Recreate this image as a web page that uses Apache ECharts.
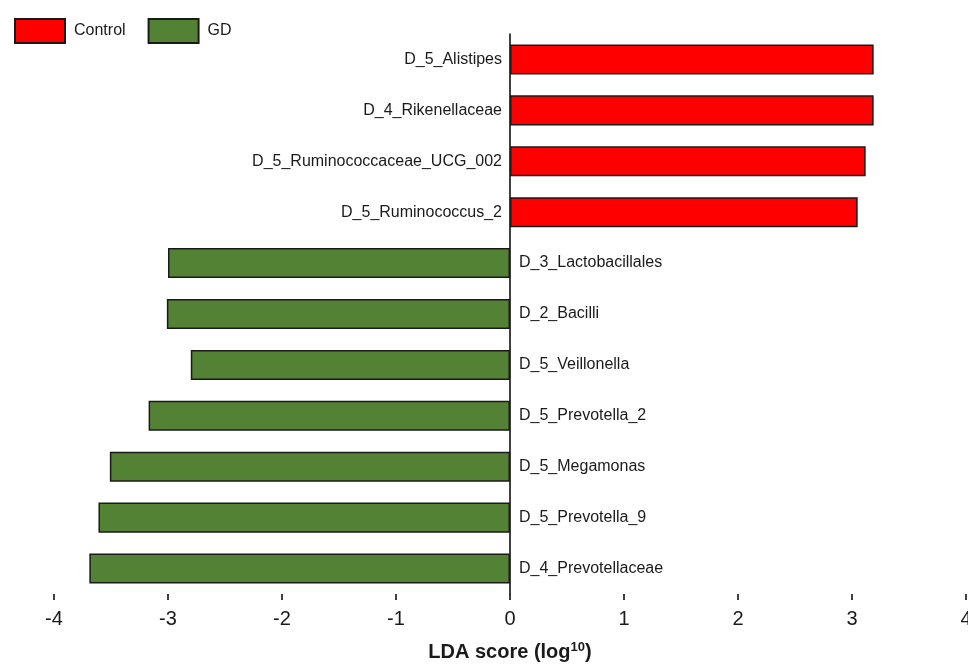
<!DOCTYPE html>
<html><head><meta charset="utf-8">
<script src="https://cdn.jsdelivr.net/npm/echarts@6/dist/echarts.min.js"></script>
<style>html,body{margin:0;padding:0;background:#fff}#c{width:968px;height:664px}</style>
</head><body><div id="c"></div>
<script>
const categories = ["D_5_Alistipes","D_4_Rikenellaceae","D_5_Ruminococcaceae_UCG_002","D_5_Ruminococcus_2","D_3_Lactobacillales","D_2_Bacilli","D_5_Veillonella","D_5_Prevotella_2","D_5_Megamonas","D_5_Prevotella_9","D_4_Prevotellaceae"];
const controlValues = [3.19, 3.19, 3.12, 3.05, null, null, null, null, null, null, null];
const gdValues = [null, null, null, null, -3.00, -3.01, -2.80, -3.17, -3.51, -3.61, -3.69];
const xTicks = [-4, -3, -2, -1, 0, 1, 2, 3, 4];

const font = "Liberation Sans, Arial, sans-serif";
const chart = echarts.init(document.getElementById('c'));
chart.setOption({
  animation: false,
  legend: {
    left: 9, top: 13, itemWidth: 50, itemHeight: 24, itemGap: 22,
    icon: 'rect',
    textStyle: { fontFamily: font, fontSize: 16, color: '#1a1a1a', padding: [0,0,3,4] },
    data: ['Control', 'GD']
  },
  grid: { left: 54, right: 2, top: 34, bottom: 70, containLabel: false, outerBoundsMode: 'none' },
  xAxis: {
    type: 'value', min: xTicks[0], max: xTicks[xTicks.length-1], interval: 1,
    splitLine: { show: false },
    axisLine: { lineStyle: { color: '#000', width: 1.5 } },
    axisTick: { show: true, length: 6, lineStyle: { color: '#000', width: 1.5 } },
    axisLabel: { fontFamily: font, fontSize: 20, color: '#1a1a1a', margin: 15 },
    name: '{t|LDA score (log}{s|10}{t|)}',
    nameLocation: 'middle', nameGap: 47,
    nameTextStyle: { rich: {
      t: { fontFamily: font, fontSize: 20, fontWeight: 'bold', color: '#1a1a1a' },
      s: { fontFamily: font, fontSize: 13, fontWeight: 'bold', color: '#1a1a1a', verticalAlign: 'top', padding: [0,0,9,0] }
    } }
  },
  yAxis: {
    type: 'category', data: categories, inverse: true,
    axisLine: { onZero: true, lineStyle: { color: '#000', width: 1.5 } },
    axisTick: { show: false }, axisLabel: { show: false }, splitLine: { show: false }
  },
  series: [
    { name: 'Control', type: 'bar', stack: 'a', data: controlValues, barWidth: '59%',
      itemStyle: { color: '#ff0000', borderColor: '#1a1a1a', borderWidth: 1.5 },
      label: { show: true, position: 'left', distance: 8, formatter: '{b}', fontFamily: font, fontSize: 16, color: '#1a1a1a' } },
    { name: 'GD', type: 'bar', stack: 'a', data: gdValues, barWidth: '59%',
      itemStyle: { color: '#548235', borderColor: '#1a1a1a', borderWidth: 1.5 },
      label: { show: true, position: 'right', distance: 9, formatter: '{b}', fontFamily: font, fontSize: 16, color: '#1a1a1a' } }
  ]
});
</script></body></html>
